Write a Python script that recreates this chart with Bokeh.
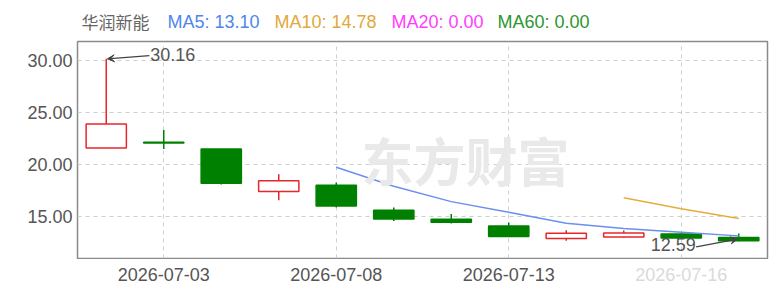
from bokeh.plotting import figure
from bokeh.layouts import column
from bokeh.models import (Range1d, FixedTicker, PrintfTickFormatter, Label, Arrow, VeeHead,
                          ColumnDataSource)
from bokeh.core.properties import value
from bokeh.embed import file_html
from bokeh.resources import INLINE

# ---- data ----
dates = ["2026-07-02", "2026-07-03", "2026-07-06", "2026-07-07", "2026-07-08", "2026-07-09",
         "2026-07-10", "2026-07-13", "2026-07-14", "2026-07-15", "2026-07-16", "2026-07-17"]
opens = [21.57, 22.12, 21.47, 17.37, 17.99, 15.57, 14.70, 14.06, 12.85, 13.00, 13.27, 12.94]
closes = [23.88, 22.05, 18.18, 18.41, 15.99, 14.72, 14.42, 13.05, 13.35, 13.38, 12.90, 12.62]
highs = [30.16, 23.30, 21.47, 19.05, 18.24, 15.83, 15.20, 14.38, 13.64, 13.62, 13.30, 13.33]
lows = [21.57, 21.47, 18.05, 16.54, 15.83, 14.54, 14.30, 12.98, 12.62, 12.95, 12.85, 12.59]
nan = float("nan")
ma5 = [nan, nan, nan, nan, 19.72, 17.88, 16.40, 15.37, 14.32, 13.80, 13.45, 13.10]
ma10 = [nan, nan, nan, nan, nan, nan, nan, nan, nan, 16.78, 15.72, 14.78]
stock_name = "华润新能"
ma_labels = ["MA5: 13.10", "MA10: 14.78", "MA20: 0.00", "MA60: 0.00"]
y_ticks = [15, 20, 25, 30]
x_label_idx = [1, 4, 7]
x_blur_idx = [10]
x_grid_idx = [1, 4, 7, 10]

RED = "#e8262a"
GREEN = "#008000"
TXT = "#555555"
FONT = "Liberation Sans"
W = 774
LEFT, RIGHT = 77, 7
HDR_H, MAIN_H, BOT_H = 40, 219, 32

idx = list(range(len(dates)))
up = [c >= o for o, c in zip(opens, closes)]
src = ColumnDataSource(dict(
    x=idx,
    top=[max(o, c) for o, c in zip(opens, closes)],
    bottom=[min(o, c) for o, c in zip(opens, closes)],
    high=highs, low=lows,
    fill=["#ffffff" if u else GREEN for u in up],
    line=[RED if u else GREEN for u in up],
))

# ---------- header (x in page pixels) ----------
hdr = figure(width=W, height=HDR_H, output_backend="svg", toolbar_location=None,
             x_range=Range1d(LEFT, W - RIGHT), y_range=Range1d(0, HDR_H),
             min_border_left=LEFT, min_border_right=RIGHT,
             min_border_top=0, min_border_bottom=0)
hdr.axis.visible = False
hdr.grid.visible = False
hdr.outline_line_color = None
hdr.border_fill_color = "#ffffff"
hdr_base = 19
hdr.text(x=[81], y=[hdr_base], text=[stock_name], text_font=value("Noto Sans CJK SC"),
         text_font_size="17px", text_color="#666666", text_baseline="alphabetic")
ma_colors = ["#4d87ea", "#e0a93a", "#ff3cff", "#2e962e"]
ma_x = [167, 274, 391, 497]
hdr.text(x=ma_x, y=[hdr_base] * 4, text=ma_labels, text_font=value(FONT),
         text_font_size="18px", text_color=ma_colors, text_baseline="alphabetic")

# ---------- main ----------
p = figure(width=W, height=MAIN_H, output_backend="svg", toolbar_location=None,
           x_range=Range1d(-0.5, 11.5), y_range=Range1d(10.92, 31.83),
           min_border_left=LEFT, min_border_right=RIGHT, min_border_top=1, min_border_bottom=1)
p.background_fill_color = "#ffffff"
p.border_fill_color = "#ffffff"
p.outline_line_color = "#8a8a8a"
p.outline_line_width = 1.5
p.xaxis.visible = False

ax = p.yaxis[0]
ax.axis_line_color = None
ax.major_tick_line_color = None
ax.minor_tick_line_color = None
ax.major_tick_in = 0
ax.major_tick_out = 0
ax.major_label_text_font = FONT
ax.major_label_text_font_size = "18px"
ax.major_label_text_color = TXT
ax.major_label_standoff = 5
ax.ticker = FixedTicker(ticks=y_ticks)
ax.formatter = PrintfTickFormatter(format="%.2f")

p.xgrid.ticker = FixedTicker(ticks=x_grid_idx)
p.ygrid.ticker = FixedTicker(ticks=y_ticks)
for g in (p.xgrid[0], p.ygrid[0]):
    g.grid_line_color = "#cfcfcf"
    g.grid_line_dash = "4 4"
    g.grid_line_width = 1

# watermark
p.add_layout(Label(x=388, y=99, x_units="screen", y_units="screen", text="东方财富",
                   text_font="Noto Sans CJK SC", text_font_style="bold", text_font_size="52px",
                   text_color="#e9e9e9", text_align="center", text_baseline="middle"))

# candles
p.segment(x0="x", x1="x", y0="low", y1="high", source=src, line_color="line", line_width=1.5)
p.vbar(x="x", width=0.7, top="top", bottom="bottom", source=src,
       fill_color="fill", line_color="line", line_width=1.5)

# moving averages
p.line(idx, ma5, line_color="#6a8ff0", line_width=1.5)
p.line(idx, ma10, line_color="#e5ae3c", line_width=1.5)

# max / min annotations
imax = highs.index(max(highs))
imin = lows.index(min(lows))
arrow_col = "#444444"
p.add_layout(Arrow(end=VeeHead(size=7, fill_color=arrow_col, line_color=arrow_col),
                   x_start=imax + 0.75, y_start=highs[imax] + 0.3,
                   x_end=imax + 0.02, y_end=highs[imax],
                   line_color=arrow_col, line_width=1.3))
p.add_layout(Label(x=imax, y=highs[imax], x_offset=44, y_offset=4, text=f"{highs[imax]:.2f}",
                   text_font=FONT, text_font_size="18px", text_color=TXT,
                   text_align="left", text_baseline="middle"))
p.add_layout(Arrow(end=VeeHead(size=7, fill_color=arrow_col, line_color=arrow_col),
                   x_start=imin - 0.74, y_start=lows[imin] - 0.55,
                   x_end=imin - 0.02, y_end=lows[imin] + 0.2,
                   line_color=arrow_col, line_width=1.3))
p.add_layout(Label(x=imin, y=lows[imin], x_offset=-43, y_offset=-3, text=f"{lows[imin]:.2f}",
                   text_font=FONT, text_font_size="18px", text_color=TXT,
                   text_align="right", text_baseline="middle"))

# ---------- bottom date labels ----------
bot = figure(width=W, height=BOT_H, output_backend="svg", toolbar_location=None,
             x_range=p.x_range, y_range=Range1d(0, BOT_H),
             min_border_left=LEFT, min_border_right=RIGHT, min_border_top=0, min_border_bottom=0)
bot.axis.visible = False
bot.grid.visible = False
bot.outline_line_color = None
bot.border_fill_color = "#ffffff"
lab_y = 17
bot.text(x=x_label_idx, y=[lab_y] * len(x_label_idx), text=[dates[i] for i in x_label_idx],
         text_font=value(FONT), text_font_size="18px", text_color=TXT,
         text_align="center", text_baseline="middle")
bot.text(x=x_blur_idx, y=[lab_y] * len(x_blur_idx), text=[dates[i] for i in x_blur_idx],
         text_font=value(FONT), text_font_size="18px", text_color="#dadada",
         text_align="center", text_baseline="middle")

layout = column(hdr, p, bot, spacing=0)
open("out.html", "w").write(file_html(layout, INLINE))
